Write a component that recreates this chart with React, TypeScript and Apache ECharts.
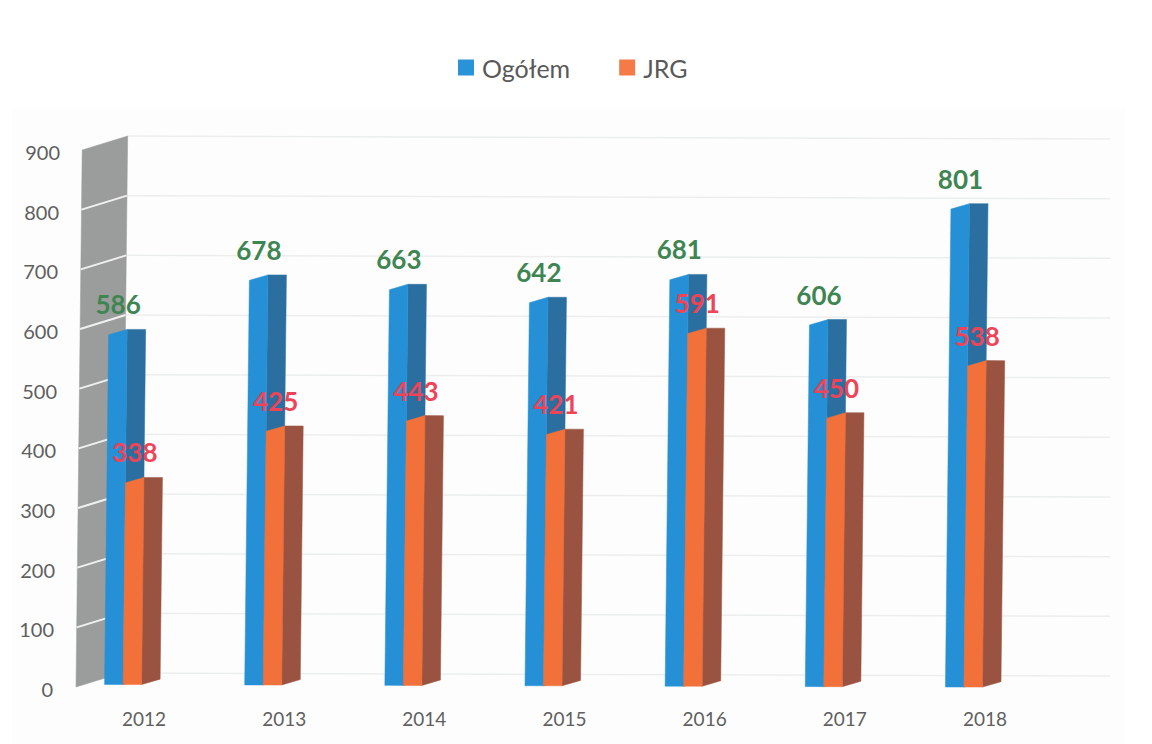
import React, { useEffect, useRef } from "react";
import * as echarts from "echarts";

const categories = ["2012", "2013", "2014", "2015", "2016", "2017", "2018"];
const ogolem = [586, 678, 663, 642, 681, 606, 801];
const jrg = [338, 425, 443, 421, 591, 450, 538];
const ticks = [0, 100, 200, 300, 400, 500, 600, 700, 800, 900];

const SKEW = 0.0115;
const TILT = 0.003;
const BASE_Y = 687;
const BAR_W = 18.5;
const DX = 18.5;
const DY = 5.5;
const WALL_DX = 45.5;
const WALL_DY = 14;

const proj = (x: number, y: number): number[] => [
  x + (BASE_Y - y) * SKEW,
  y + (x - 945) * TILT,
];

const poly = (pts: number[][], fill: string, z2 = 0) => ({
  type: "polygon",
  z2,
  shape: { points: pts },
  style: { fill, stroke: fill, lineWidth: 0.5 },
});

const barItem =
  (offset: number, front: string, side: string, labelColor: string) =>
  (_params: any, api: any) => {
    const i = api.value(0);
    const v = api.value(1);
    const c = api.coord([i, v]);
    const z = api.coord([i, 0]);
    const l = z[0] + offset;
    const r = l + BAR_W;
    const s = r + DX;
    const top = c[1];
    const bot = z[1];
    const tl = proj(l, top);
    return {
      type: "group",
      children: [
        poly(
          [proj(r, top - DY), proj(s, top - DY), proj(s, bot - DY), proj(r, bot)],
          side
        ),
        poly([tl, proj(r, top - DY), proj(r, bot), proj(l, bot)], front),
        {
          type: "text",
          z2: 10,
          x: tl[0] + 9.5,
          y: tl[1] - 30.5,
          style: {
            text: String(v),
            fill: labelColor,
            font: "bold 26px Lato",
            align: "center",
            verticalAlign: "middle",
          },
        },
      ],
    };
  };

const wallItem = (params: any, api: any) => {
  const x0 = 76;
  const b = api.coord([0, 0])[1];
  const t = api.coord([0, 900])[1];
  const at = (v: number) => api.coord([0, v])[1];
  const fx = (y: number) => x0 + (BASE_Y - y) * SKEW;
  const lines = ticks
    .filter((v) => v > 0 && v < 900)
    .map((v) => {
      const y = at(v);
      return {
        type: "line",
        shape: { x1: fx(y), y1: y, x2: fx(y) + WALL_DX, y2: y - WALL_DY },
        style: { stroke: "#f0f0f0", lineWidth: 2 },
      };
    });
  const grid = ticks.map((v) => {
    const y = at(v);
    return {
      type: "line",
      shape: {
        x1: fx(y) + WALL_DX,
        y1: y - WALL_DY,
        x2: params.coordSys.x + params.coordSys.width + 55,
        y2: y - WALL_DY + 3,
      },
      style: { stroke: "#eceeee", lineWidth: 1.5 },
    };
  });
  return {
    type: "group",
    children: [
      ...grid,
      poly(
        [
          [fx(b), b],
          [fx(t), t],
          [fx(t) + WALL_DX, t - WALL_DY],
          [fx(b) + WALL_DX, b - WALL_DY],
        ],
        "#9b9c9c"
      ),
      ...lines,
    ],
  };
};

const yRich: Record<string, any> = {};
ticks.forEach((v) => {
  yRich["t" + v] = {
    fontFamily: "Lato",
    fontSize: 20,
    color: "#5f5f5f",
    align: "right",
    padding: [4, Math.round(7 * (1 - v / 900)), 0, 0],
  };
});

export default function App() {
  const ref = useRef<HTMLDivElement>(null);
  useEffect(() => {
    if (!ref.current) return;
    const chart = echarts.init(ref.current, undefined, { renderer: "svg" });
    chart.setOption({
      animation: false,
      backgroundColor: "#ffffff",
      graphic: [
        {
          type: "rect",
          z: -1,
          shape: { x: 12, y: 108, width: 1114, height: 636 },
          style: { fill: "#fdfdfd" },
        },
      ],
      legend: {
        left: 458,
        top: 55,
        padding: 0,
        itemWidth: 16,
        itemHeight: 16,
        itemGap: 49,
        icon: "rect",
        textStyle: {
          fontFamily: "Lato",
          fontSize: 25,
          color: "#595959",
          padding: [0, 0, 0, 3],
        },
        data: ["Ogółem", "JRG"],
      },
      grid: { left: 74, top: 150, width: 981, height: 537 },
      xAxis: {
        type: "category",
        data: categories,
        axisLine: { show: false },
        axisTick: { show: false },
        splitLine: { show: false },
        axisLabel: {
          margin: 22,
          fontFamily: "Lato",
          fontSize: 19,
          color: "#5f5f5f",
        },
      },
      yAxis: {
        type: "value",
        min: 0,
        max: 900,
        interval: 100,
        axisLine: { show: false },
        axisTick: { show: false },
        splitLine: { show: false },
        axisLabel: {
          margin: 14,
          formatter: (v: number) => `{t${v}|${v}}`,
          rich: yRich,
        },
      },
      series: [
        {
          type: "custom",
          name: "wall",
          silent: true,
          clip: false,
          data: [[0, 0]],
          encode: { x: 0, y: 1 },
          renderItem: wallItem,
        },
        {
          type: "custom",
          name: "Ogółem",
          clip: false,
          itemStyle: { color: "#2a93d8" },
          data: ogolem.map((v, i) => [i, v]),
          encode: { x: 0, y: 1 },
          renderItem: barItem(-39.5, "#2590d6", "#2a6f9f", "#3f8552"),
        },
        {
          type: "custom",
          name: "JRG",
          clip: false,
          itemStyle: { color: "#f47a48" },
          data: jrg.map((v, i) => [i, v]),
          encode: { x: 0, y: 1 },
          renderItem: barItem(-21, "#f2703a", "#9a5340", "#ee4458"),
        },
      ],
    });
    return () => chart.dispose();
  }, []);
  return (
    <div
      ref={ref}
      style={{ position: "absolute", left: 0, top: 0, width: 1152, height: 744 }}
    />
  );
}
